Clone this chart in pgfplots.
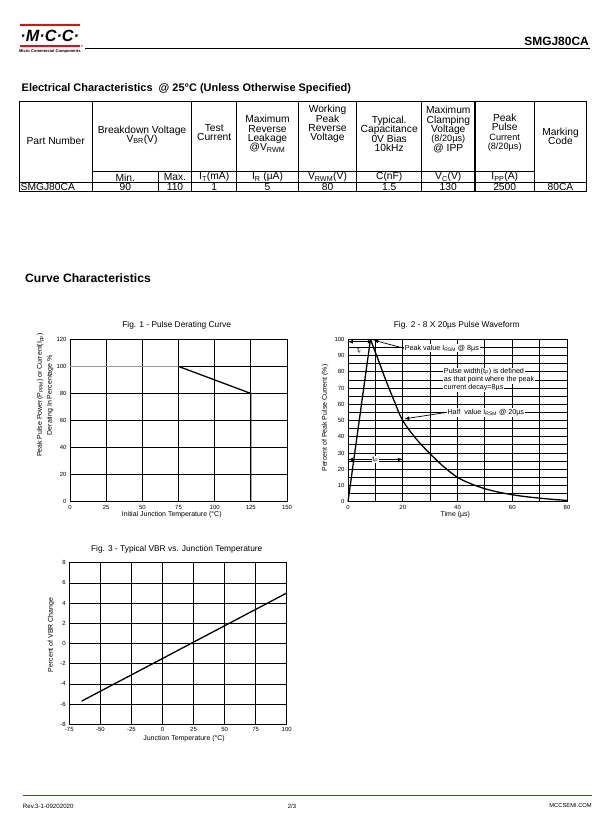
\documentclass[border=0pt]{standalone}
\usepackage{fontspec}
\setmainfont{Liberation Sans}
\usepackage{pgfplots}
\pgfplotsset{compat=1.18}
\definecolor{mccred}{RGB}{230,10,25}
\newcommand\fs[2]{\fontsize{#1}{#2}\selectfont}
\newcommand\tabf{\fs{10.3}{9.3}\lineskiplimit=-10pt\relax}
\newcommand\tabs{\fs{9.2}{9.3}\lineskiplimit=-10pt\relax}
\newcommand\sub[1]{\textsubscript{#1}}
\pgfplotsset{
  mcc/.style={scale only axis, anchor=south west,
    axis line style={line width=1bp},
    major grid style={black, line width=0.8bp},
    minor grid style={black, line width=0.8bp},
    major tick length=0pt, minor tick length=0pt,
    tick label style={font=\fs{6}{7}},
    xticklabel style={anchor=base, yshift=-7.3bp},
    label style={font=\fs{7}{8}},
    /pgf/number format/assume math mode=true,
    clip=false},
}
\begin{document}
\begin{tikzpicture}[x=1bp,y=-1bp]
\path[use as bounding box, fill=white] (0,0) rectangle (612,825);
% ---------- header ----------
\fill[mccred] (19.5,23.8) rectangle (80,25.6);
\fill[mccred] (19.5,45) rectangle (80,46.8);
\node[inner sep=0, font=\fs{16.3}{17}\bfseries\itshape] at (49.8,36) {·M·C·C·};
\node[inner sep=0, font=\fs{4.1}{5}\bfseries] at (49.8,51.7) {Micro Commercial Components};
\node[inner sep=0, font=\fs{3}{3}] at (82,46.5) {®};
\draw[line width=1bp] (85,48.3) -- (590,48.3);
\node[inner sep=0, anchor=south east, font=\fs{12}{13}\bfseries] at (589,46.3) {SMGJ80CA};
% ---------- table ----------
\node[anchor=west, inner sep=0, font=\fs{11}{12}\bfseries] at (21.5,88.3) {Electrical Characteristics\ \ @ 25°C (Unless Otherwise Specified)};
\draw[line width=0.9bp] (19,101) rectangle (586.7,191.7);
\foreach \xx in {92.3,191.7,236.7,298.3,534.3} {\draw[line width=0.9bp] (\xx,101) -- (\xx,191.7);}
\foreach \xx in {356.7,421.7,475} {\draw[line width=1.4bp] (\xx,101) -- (\xx,191.7);}
\draw[line width=0.9bp] (158.3,171.7) -- (158.3,191.7);
\draw[line width=0.9bp] (92.3,171.7) -- (534.3,171.7);
\draw[line width=0.9bp] (19,182.3) -- (586.7,182.3);
\tikzset{tab/.style={inner sep=0, align=center, font=\tabf}}
\node[tab] at (55.7,140.5) {Part Number};
\node[tab] at (142,135) {Breakdown Voltage\\V\sub{BR}(V)};
\node[tab] at (214.2,132.8) {Test\\Current};
\node[tab] at (267.5,133.7) {Maximum\\Reverse\\Leakage\\@V\sub{RWM}};
\node[tab] at (327.5,124) {Working\\Peak\\Reverse\\Voltage};
\node[tab] at (389.2,133.7) {Typical.\\Capacitance\\0V Bias\\10kHz};
\node[tab] at (448.3,129.5) {Maximum\\Clamping\\Voltage\\{\tabs(8/20µs)}\\@ IPP};
\node[tab] at (504.7,132.8) {Peak\\Pulse\\{\tabs Current}\\{\tabs(8/20µs)}};
\node[tab] at (560.5,136.2) {Marking\\Code};
\foreach \xx/\tt in {125.3/Min., 175/Max., 214.2/I\sub{T}(mA), 267.5/I\sub{R} (µA), 327.5/V\sub{RWM}(V), 389.2/C(nF), 448.3/V\sub{C}(V), 504.7/I\sub{PP}(A)}
  {\node[tab] at (\xx,177.3) {\tt};}
\node[tab, anchor=west] at (20.5,187.3) {SMGJ80CA};
\foreach \xx/\tt in {125.3/90, 175/110, 214.2/1, 267.5/5, 327.5/80, 389.2/1.5, 448.3/130, 504.7/2500, 560.5/80CA}
  {\node[tab] at (\xx,187.3) {\tt};}
% ---------- curve characteristics ----------
\node[anchor=west, inner sep=0, font=\fs{12.2}{13}\bfseries] at (25,278) {Curve Characteristics};
\tikzset{ftitle/.style={inner sep=0, font=\fs{8.4}{9}}}
\node[ftitle] at (176.7,325.7) {Fig. 1 - Pulse Derating Curve};
\node[ftitle] at (456.7,325.7) {Fig. 2 - 8 X 20µs Pulse Waveform};
\node[ftitle] at (176.7,549) {Fig. 3 - Typical VBR vs. Junction Temperature};
% Fig 1
\begin{axis}[mcc, at={(70bp,-501.7bp)}, width=217bp, height=162.4bp,
  xmin=0, xmax=150, ymin=0, ymax=120,
  xtick={0,25,...,150}, ytick={0,20,...,120}, grid=major,
  xlabel={Initial Junction Temperature (°C)},
  xlabel style={at={(axis description cs:0.469,-0.078)}, anchor=center},
  ylabel={Peak Pulse Power(P\sub{PPM}) or Current(I\sub{pp})\\Derating In Percentage \%},
  ylabel style={at={(axis description cs:-0.115,0.656)}, anchor=center, align=center, font=\fs{7}{10}}]
\addplot[gray!80, line width=1.3bp] coordinates {(0,100) (75,100)};
\addplot[black, line width=1.3bp] coordinates {(75,100) (125,80) (125,0)};
\end{axis}
% Fig 2
\begin{axis}[mcc, at={(348bp,-501.7bp)}, width=219bp, height=162.4bp,
  xmin=0, xmax=80, ymin=0, ymax=100,
  xtick={0,20,...,80}, minor xtick={10,30,50,70},
  ytick={0,10,...,100}, minor ytick={5,15,...,95}, grid=both,
  xlabel={Time (µs)},
  xlabel style={at={(axis description cs:0.49,-0.078)}, anchor=center},
  ylabel={Percent of Peak Pulse Current (\%)},
  ylabel style={at={(axis description cs:-0.105,0.515)}, anchor=center}]
\addplot[black, line width=1.3bp] coordinates {(0,0) (8.2,100)};
\addplot[black, line width=1.3bp, smooth, tension=0.6] coordinates {
 (8.2,100) (11,87.5) (14,74) (17,61.5) (20,50)
 (25,38.5) (30,29.5) (35,21.5) (40,15) (45,11) (50,8) (55,5.9)
 (60,4.3) (65,3.1) (70,2.2) (75,1.4) (80,0.8)};
\tikzset{ann/.style={fill=white, inner sep=0.8bp, font=\fs{7.2}{8}}}
\draw[latex-latex, line width=0.7bp] (axis cs:0,98.5) -- (axis cs:9,98.5);
\node[ann, fill=none] at (axis cs:4.2,93) {t\sub{r}};
\draw[-latex, line width=0.7bp] (axis cs:20.4,94.5) -- (axis cs:9.3,99.5);
\node[ann, anchor=west] at (axis cs:20.4,94.5) {Peak value I\sub{RSM} @ 8µs};
\node[ann, anchor=west] at (axis cs:34.7,80) {Pulse width(t\sub{P}) is defined};
\node[ann, anchor=west] at (axis cs:34.7,75) {as that point where the peak};
\node[ann, anchor=west] at (axis cs:34.7,70) {current decay=8µs};
\draw[-latex, line width=0.7bp] (axis cs:36,55) -- (axis cs:20.6,51);
\node[ann, anchor=west] at (axis cs:36,55) {Half\ \ value I\sub{RSM} @ 20µs};
\draw[latex-latex, line width=0.7bp] (axis cs:0,26) -- (axis cs:20,26);
\node[ann] at (axis cs:10,26) {t\sub{P}};
\end{axis}
% Fig 3
\begin{axis}[mcc, at={(69.3bp,-724.3bp)}, width=217.4bp, height=161.6bp,
  xmin=-75, xmax=100, ymin=-8, ymax=8,
  xtick={-75,-50,...,100}, ytick={-8,-6,...,8}, grid=major,
  xlabel={Junction Temperature (°C)},
  xlabel style={at={(axis description cs:0.528,-0.091)}, anchor=center},
  ylabel={Percent of VBR Change},
  ylabel style={at={(axis description cs:-0.084,0.553)}, anchor=center}]
\addplot[black, line width=1.3bp] coordinates {(-65,-5.7) (100,5.0)};
\end{axis}
% ---------- footer ----------
\fill[mccred] (22.7,794.7) rectangle (592,796.3);
\node[anchor=west, inner sep=0, font=\fs{6.2}{7}] at (22.7,806) {Rev.3-1-09202020};
\node[inner sep=0, font=\fs{6}{7}] at (292,806) {2/3};
\node[anchor=east, inner sep=0, font=\fs{5.8}{7}] at (592,806) {MCCSEMI.COM};
\end{tikzpicture}
\end{document}
